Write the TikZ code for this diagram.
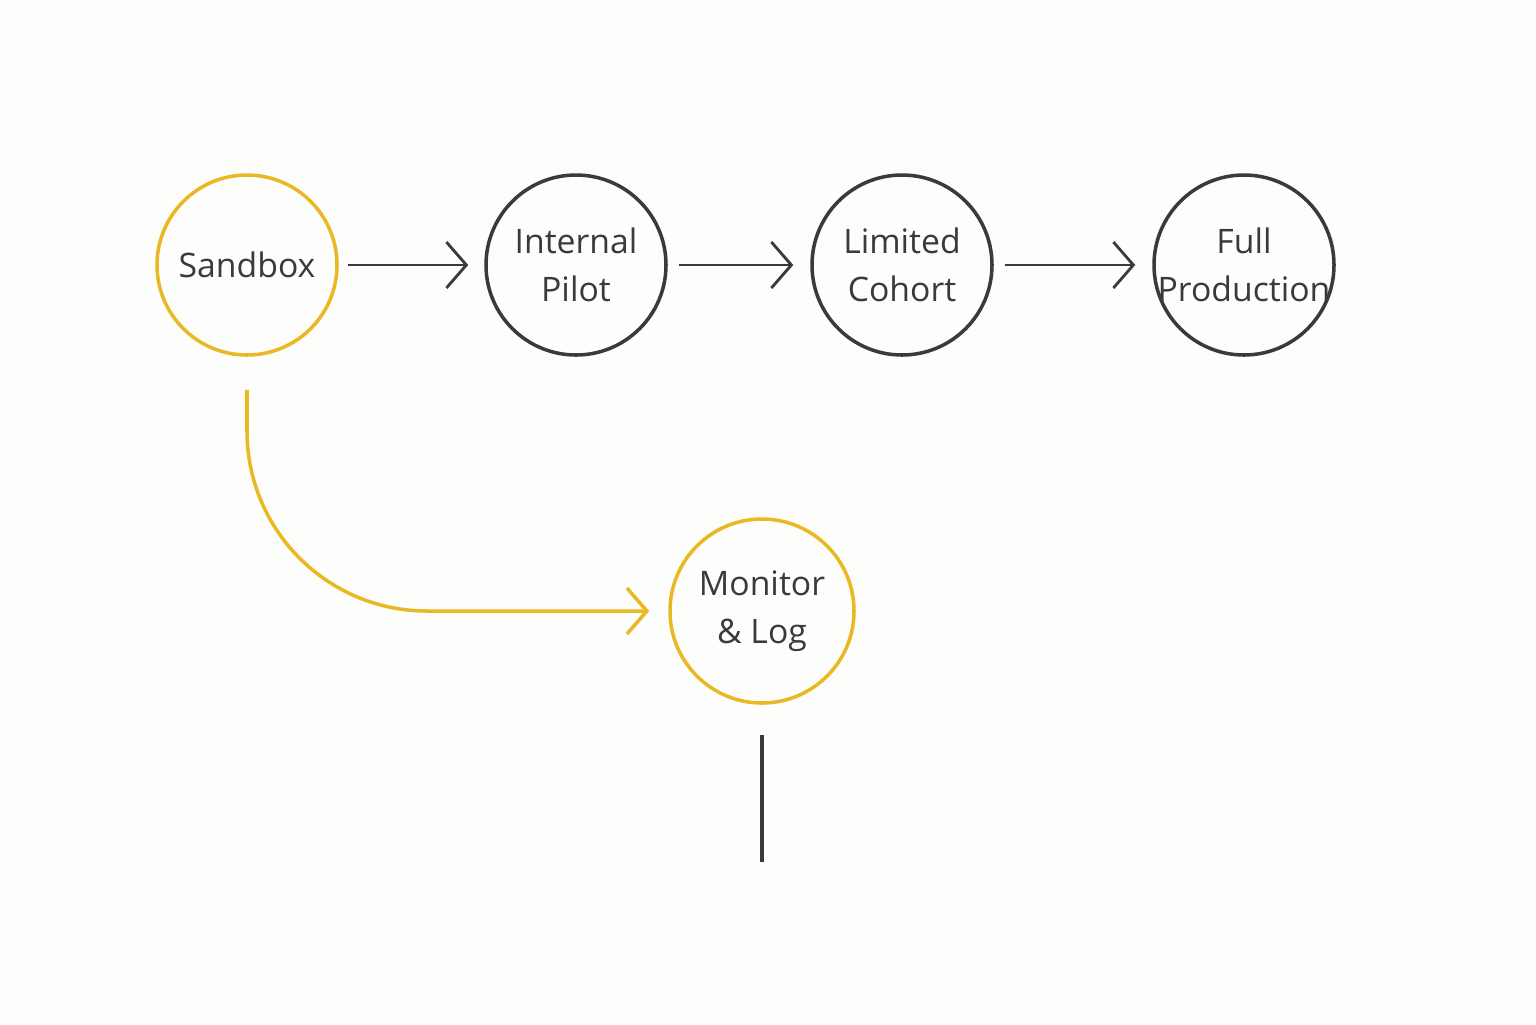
\documentclass[tikz,border=0pt]{standalone}
\usepackage{fontspec}
\setmainfont{Open Sans}
\usetikzlibrary{arrows.meta,positioning}
\definecolor{ink}{HTML}{3A3A3C}
\definecolor{gold}{HTML}{E8B923}
\definecolor{paper}{HTML}{FDFDFB}
\tikzset{
  stage/.style={circle,draw=ink,line width=1pt,minimum size=1.8cm,inner sep=-2pt,align=center,text=ink,font=\fontsize{9.6}{13.5}\selectfont},
  hot/.style={stage,draw=gold},
  flow/.style={-{Straight Barb[length=2mm,width=4.6mm]},draw=ink,line width=0.8pt},
}
\begin{document}
\begin{tikzpicture}
\fill[paper] (0,0) rectangle (15.36,-10.24);
\node[hot] (sandbox) at (2.47,-2.65) {Sandbox};
\node[stage] (pilot) at (5.76,-2.65) {Internal\\Pilot};
\node[stage] (cohort) at (9.02,-2.65) {Limited\\Cohort};
\node[stage] (prod) at (12.44,-2.65) {Full\\Production};
\node[hot,minimum size=1.84cm] (monitor) at (7.62,-6.11) {Monitor\\\& Log};
\coordinate (tail) at (7.62,-8.62);
\draw[flow,shorten <=0.09cm,shorten >=0.16cm] (sandbox) -- (pilot);
\draw[flow,shorten <=0.11cm,shorten >=0.17cm] (pilot) -- (cohort);
\draw[flow,shorten <=0.11cm,shorten >=0.17cm] (cohort) -- (prod);
% side branch
\draw[flow,draw=gold,line width=1pt,rounded corners=1.8cm,shorten <=0.33cm,shorten >=0.19cm] (sandbox.south) |- (monitor.west);
\draw[ink,line width=1pt,shorten <=0.3cm] (monitor.south) -- (tail);
\end{tikzpicture}
\end{document}
